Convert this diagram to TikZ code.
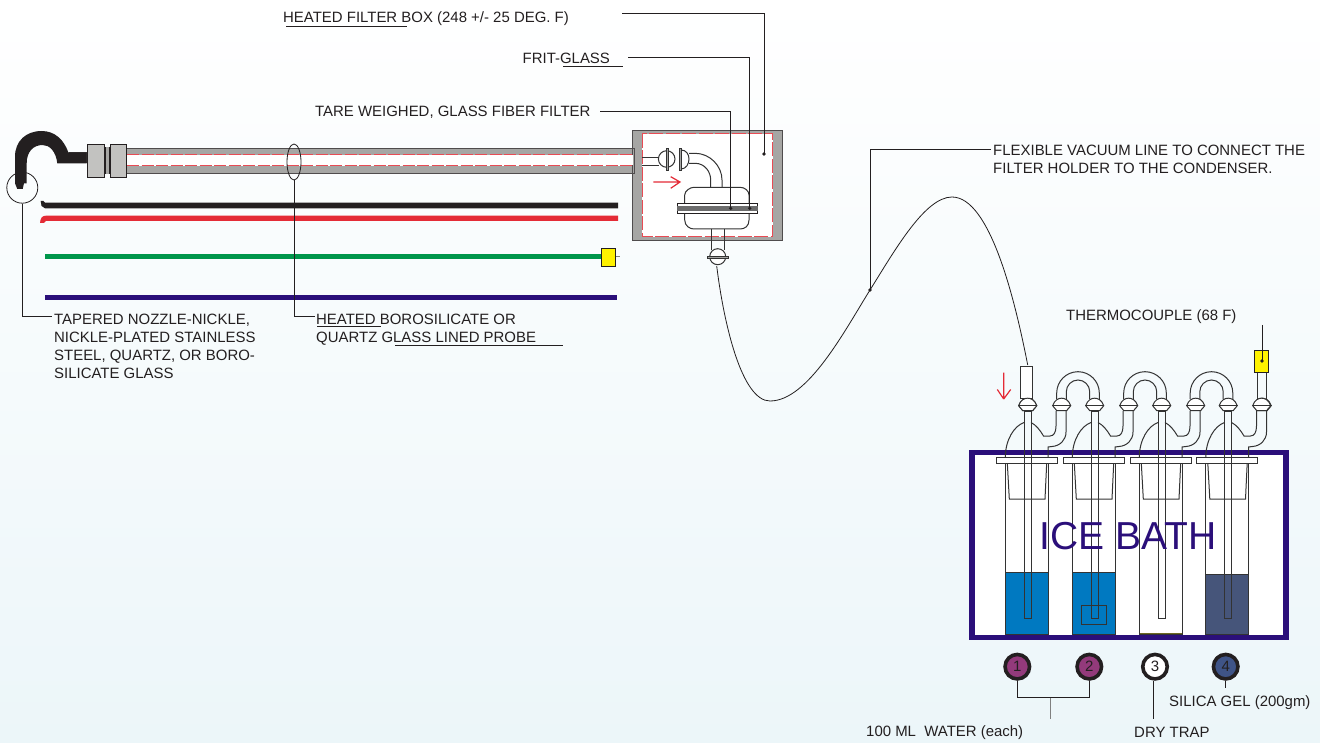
\documentclass[tikz,border=0pt]{standalone}
\usetikzlibrary{shapes.geometric}
\usepackage{fontspec}
\setmainfont{Liberation Sans}
\definecolor{ink}{HTML}{231F20}
\definecolor{gline}{HTML}{333333}
\definecolor{redc}{HTML}{E42B36}
\definecolor{greenc}{HTML}{00964B}
\definecolor{purplec}{HTML}{2B0F7A}
\definecolor{greyc}{HTML}{A6A6A4}
\definecolor{fitc}{HTML}{C2C2C0}
\definecolor{bluec}{HTML}{0079C1}
\definecolor{slatec}{HTML}{46557A}
\definecolor{magc}{HTML}{933A7B}
\definecolor{bluecirc}{HTML}{3F5487}
\definecolor{yel}{HTML}{FFF200}
\definecolor{bgbottom}{HTML}{ECF6F9}
\tikzset{
  lbl/.style={font=\fontsize{14.95}{18}\selectfont, text=ink, inner sep=0pt, align=left},
  leader/.style={draw=ink, line width=0.8pt},
  ul/.style={draw=ink, line width=1.4pt},
  glass/.style={draw=gline, line width=1pt},
  dotn/.style={circle, fill=ink, inner sep=0pt, minimum size=3.6pt},
  num/.style={circle, draw=ink, line width=3.6pt, minimum size=24.5pt, inner sep=0pt, font=\fontsize{15}{15}\selectfont, text=ink},
  redarrow/.style={draw=redc, line width=1.2pt},
  reddash/.style={draw=redc!85!white, line width=1pt}
}
\newcommand{\balljoint}[2]{%
  \draw[glass, fill=white] (#1-9,#2) .. controls (#1-7,#2-6) and (#1-3,#2-7.5) .. (#1,#2-7.5) .. controls (#1+3,#2-7.5) and (#1+7,#2-6) .. (#1+9,#2)
     .. controls (#1+7,#2+3) and (#1+5,#2+4) .. (#1+5,#2+5) -- (#1-5,#2+5) .. controls (#1-5,#2+4) and (#1-7,#2+3) .. (#1-9,#2) -- cycle;
  \draw[draw=gline, line width=1.5pt] (#1-9.5,#2) -- (#1+9.5,#2);
}
\newcommand{\impinger}[3]{%
 \begin{scope}[shift={(#1,0)}]
  \ifx\relax#2\relax\else
  \fill[#2] (1005.3,#3) rectangle (1048,634);
  \draw[glass] (1005.3,#3) -- (1048,#3);
  \fi
  \draw[glass] (1005.3,463) -- (1005.3,634) -- (1048,634) -- (1048,463);
  \draw[glass] (1007.3,463) -- (1009.3,499) -- (1045,499) -- (1046.7,463);
  \draw[glass] (1024,411) -- (1024,618) -- (1031,618) -- (1031,411) -- cycle;
  \draw[glass] (1005.3,457.5) .. controls (1005.3,440) and (1014,426) .. (1024,422.5);
  \draw[glass] (1031,422.5) .. controls (1036,425) and (1040,430) .. (1043.5,436) -- (1050,436) .. controls (1054,436) and (1056,432) .. (1056,426) -- (1056,411);
  \draw[glass] (1048,457.5) -- (1048,447) -- (1052,446.5) .. controls (1060,446) and (1066,440) .. (1066,432) -- (1066,411);
  \draw[glass, fill=white] (996.3,457.3) rectangle (1057,463);
  \draw[glass] (1024,457.3) -- (1024,463) (1031,457.3) -- (1031,463);
  \balljoint{1027.7}{405.7}
  \balljoint{1061.7}{405.7}
 \end{scope}}
\newcommand{\utube}[1]{%
 \begin{scope}[shift={(#1,0)}]
  \draw[glass] (1056.7,399) -- (1056.7,393) .. controls (1056.7,381.3) and (1066.2,371.7) .. (1078,371.7) .. controls (1089.8,371.7) and (1099.3,381.3) .. (1099.3,393) -- (1099.3,399);
  \draw[glass] (1066.3,399) -- (1066.3,391.7) .. controls (1066.3,385.3) and (1071.6,380) .. (1078,380) .. controls (1084.4,380) and (1089.7,385.3) .. (1089.7,391.7) -- (1089.7,399);
 \end{scope}}
\begin{document}
\begin{tikzpicture}[x=1pt,y=-1pt]
\useasboundingbox (0,0) rectangle (1320,743);
\shade[top color=white, bottom color=bgbottom] (0,0) rectangle (1320,743);

% ---------- hose lines on the left
\fill[ink] (40.7,201) -- (43.5,201) -- (45,202.7) -- (618,202.7) -- (618,208.3) -- (45,208.3) -- (41.5,206) -- cycle;
\fill[redc] (40,223) .. controls (40.5,218) and (42,215.7) .. (46,215.7) -- (618,215.7) -- (618,221) -- (46,221) -- (44,223) -- cycle;
\fill[greenc] (45,254.3) rectangle (602,259);
\fill[purplec] (45,294.7) rectangle (617,300.3);
\draw[draw=gray, line width=1pt] (615,257) -- (620,257);
\draw[draw=ink, line width=0.9pt, fill=yel] (601.3,248) rectangle (615.7,266);

% ---------- probe
\fill[greyc] (127,148.3) rectangle (634.3,173.3);
\draw[draw=ink!80, line width=0.9pt] (127,148.6) -- (634.3,148.6) -- (634.3,173) -- (127,173);
\fill[white] (127,155) rectangle (632.7,166);
\draw[reddash, dash pattern=on 12pt off 2.5pt] (127,155) -- (632.7,155);
\draw[reddash, dash pattern=on 12pt off 2.5pt] (127,166) -- (632.7,166);
\fill[ink!85] (69,152.3) rectangle (88,163.3);
\fill[greyc] (104,147) rectangle (111,174);
\draw[draw=ink, line width=0.9pt] (105.5,147) -- (105.5,174) (109,147) -- (109,174);
\draw[draw=ink, line width=0.9pt, fill=fitc] (87.3,144) rectangle (104.7,177.3);
\draw[draw=ink, line width=0.9pt, fill=fitc] (110,144) rectangle (126.7,177.3);
% hook + nozzle
\fill[ink] (15,183.3) -- (15,156.7) .. controls (15,141) and (26,131) .. (41.7,131)
  .. controls (55,131) and (64,140) .. (68.3,152.3) -- (86.7,152.3) -- (86.7,163.3) -- (57.3,163.3)
  .. controls (56,152) and (50,145) .. (42.7,145) .. controls (33,145) and (26.7,152) .. (26.7,163.3)
  -- (26.7,183.3) -- (24,183.3) -- (22.7,189) -- (17.3,189) -- cycle;
\node[circle, draw=ink, line width=0.8pt, minimum size=31pt, inner sep=0pt] (noz) at (22.3,187.7) {};
\node[ellipse, draw=ink, line width=0.8pt, minimum width=14pt, minimum height=36pt, inner sep=0pt] (probering) at (294,162) {};

% ---------- filter box
\fill[greyc] (632.7,130.7) rectangle (782.7,240);
\draw[draw=ink!80, line width=0.9pt] (632.7,130.7) rectangle (782.7,240);
\fill[white] (642.3,134) rectangle (772.7,236.7);
\draw[reddash, dash pattern=on 14pt off 2.5pt] (642.3,134) rectangle (772.7,236.7);
\draw[draw=ink!80, line width=0.9pt] (632.7,148.6) -- (634.3,148.6) -- (634.3,173) -- (632.7,173);
\fill[white] (630,155.5) rectangle (633.4,165.5);
\draw[glass] (642,157.7) -- (659,157.7) (642,165.7) -- (659,165.7);
\draw[glass, fill=white] (666.7,159) circle (8.3);
\draw[draw=gline, line width=0.8pt, fill=greyc] (666,148.5) rectangle (668.8,170);
\draw[glass, fill=white] (681,150) .. controls (686,150) and (689,154) .. (689,159) .. controls (689,164) and (686,169) .. (681,169) -- cycle;
\draw[draw=gline, line width=0.8pt, fill=greyc] (679,148.5) rectangle (681,170);
\draw[glass] (689,153.3) -- (695,153.3) .. controls (710,153.3) and (722,166) .. (722,180) -- (722,187.5);
\draw[glass] (689,163.3) -- (695,163.3) .. controls (705,163.3) and (710.7,172) .. (710.7,180) -- (710.7,187.5);
\draw[glass, fill=white] (684.7,203.3) -- (684.7,195) .. controls (684.7,191) and (690,187.3) .. (694,187.3) -- (740,187.3) .. controls (745,187.3) and (749,191) .. (749,195) -- (749,203.3);
\draw[glass, fill=white] (684.7,213.3) -- (684.7,220) .. controls (684.7,226) and (690,229) .. (694,229) -- (740,229) .. controls (745,229) and (749,226) .. (749,220) -- (749,213.3);
\draw[draw=ink, line width=0.9pt, fill=white] (677,203.3) rectangle (757.7,213.3);
\fill[gray!85!black] (677,205.7) rectangle (757.7,210.7);
\draw[glass] (711,229) -- (711,250) (724.3,229) -- (724.3,250);
\draw[glass, fill=white] (717.7,256.7) circle (8);
\draw[draw=gline, line width=0.8pt, fill=greyc] (707.7,256) rectangle (728.3,258);
\draw[redarrow] (653.3,182) -- (679,182) (670.7,176.7) -- (680,182) -- (670.7,188.3);

% ---------- ice bath
\fill[white] (972,452.3) rectangle (1286,637.3);
\draw[draw=purplec, line width=5.6pt] (972,452.3) rectangle (1286,637.3);
\impinger{0}{bluec}{572}
\impinger{67}{bluec}{572}
\impinger{134}{}{572}
\impinger{200.5}{slatec}{574}
\draw[glass] (1081.3,605.7) rectangle (1106,624.3);
\draw[draw=olive!70!black, line width=0.8pt] (1139.6,633.6) -- (1181.8,633.6);
\node[font=\fontsize{39}{39}\selectfont, text=purplec, inner sep=0pt, anchor=base west] (icebath) at (1039,549.3) {ICE BATH};
\utube{0}
\utube{67}
\utube{133.5}
% inlet stub on first impinger
\draw[glass, fill=white] (1020.7,366.7) rectangle (1032.7,398.5);
\balljoint{1027.7}{405.7}
% outlet of last impinger + thermocouple
\draw[glass] (1257.3,372.7) -- (1257.3,399) (1266,372.7) -- (1266,399);
\balljoint{1261.7}{405.7}
\draw[draw=ink, line width=0.9pt, fill=yel] (1254.7,350) rectangle (1268.7,372.7);
\node[dotn] (tcdot) at (1262,361) {};
\coordinate (tctop) at (1262,325);
\draw[leader] (tctop) -- (tcdot.center);
\draw[redarrow] (1003.7,372.7) -- (1003.7,398.5) (997.3,389.5) -- (1003.7,399) (1010.7,389.5) -- (1003.7,399);

% ---------- flexible line
\coordinate (flexa) at (716.7,266);
\coordinate (flexm) at (870,290);
\coordinate (flexb) at (1027.7,365);
\draw[draw=ink, line width=0.8pt] (flexa) .. controls (724,325) and (742,401) .. (770,401)
   .. controls (808,401) and (845,330) .. (flexm)
   .. controls (895,250) and (925,197) .. (952,197)
   .. controls (990,197) and (1015,300) .. (flexb);

% ---------- leaders and labels
\node[dotn] (dbox) at (764,154) {};
\node[dotn] (dfrit) at (749.7,208.3) {};
\node[dotn] (dtare) at (730.7,208.3) {};
\node[dotn] (dflex) at (870,290) {};
\node[lbl, anchor=base west] (hfb) at (283,23) {HEATED FILTER BOX (248 +/- 25 DEG. F)};
\node[lbl, anchor=base west] (frit) at (522.5,63.3) {FRIT-GLASS};
\node[lbl, anchor=base west] (tare) at (315,116.5) {TARE WEIGHED, GLASS FIBER FILTER};
\node[lbl, anchor=north west] (flex) at (993,145) {FLEXIBLE VACUUM LINE TO CONNECT THE\\FILTER HOLDER TO THE CONDENSER.};
\node[lbl, anchor=north west] (taper) at (54,314) {TAPERED NOZZLE-NICKLE,\\NICKLE-PLATED STAINLESS\\STEEL, QUARTZ, OR BORO-\\SILICATE GLASS};
\node[lbl, anchor=north west] (probe) at (316,314) {HEATED BOROSILICATE OR\\QUARTZ GLASS LINED PROBE};
\node[lbl, anchor=base west] (tc) at (1066,320) {THERMOCOUPLE (68 F)};
\node[lbl, anchor=base west] (water) at (866,736) {100 ML\ \ WATER (each)};
\node[lbl, anchor=base west] (dry) at (1134,737) {DRY TRAP};
\node[lbl, anchor=base west] (silica) at (1169,706) {SILICA GEL (200gm)};

\coordinate (c1s) at (622,13); \coordinate (c1k) at (764,13);
\coordinate (c2s) at (628,57); \coordinate (c2k) at (749.7,57);
\coordinate (c3s) at (600,111); \coordinate (c3k) at (730.7,111);
\draw[leader] (c1s) -- (c1k) -- (dbox.center);
\draw[leader] (c2s) -- (c2k) -- (dfrit.center);
\draw[leader] (c3s) -- (c3k) -- (dtare.center);
\coordinate (c4k) at (870,149); \coordinate (c4e) at (991,149);
\draw[leader] (dflex.center) -- (c4k) -- (c4e);
\coordinate (c5k) at (22.3,316); \coordinate (c5e) at (52,316);
\draw[leader] (noz.south) -- (c5k) -- (c5e);
\coordinate (c6k) at (294,316); \coordinate (c6e) at (315,316);
\draw[leader] (probering.south) -- (c6k) -- (c6e);
\draw[ul] (286,26.5) -- (407,26.5);
\draw[ul] (563,66.5) -- (623,66.5);
\draw[ul] (317,326.5) -- (381,326.5);
\draw[ul] (395,345.5) -- (563,345.5);

% ---------- numbered circles
\node[num, fill=magc] (n1) at (1017.3,666.7) {1};
\node[num, fill=magc] (n2) at (1089.3,666.7) {2};
\node[num, fill=white] (n3) at (1155,666.7) {3};
\node[num, fill=bluecirc] (n4) at (1225.7,666.7) {4};
\coordinate (j1) at (1017.3,697.5); \coordinate (j2) at (1089.3,697.5);
\coordinate (j3) at (1050.7,697.5); \coordinate (j4) at (1050.7,719);
\coordinate (j5) at (1153,719); \coordinate (j6) at (1225,688);
\draw[leader] (n1) -- (j1) -- (j2) -- (n2);
\draw[draw=gray, line width=1pt] (j3) -- (j4);
\draw[leader] (n3.south -| j5) -- (j5);
\draw[leader] (n4.south -| j6) -- (j6);
\end{tikzpicture}
\end{document}
